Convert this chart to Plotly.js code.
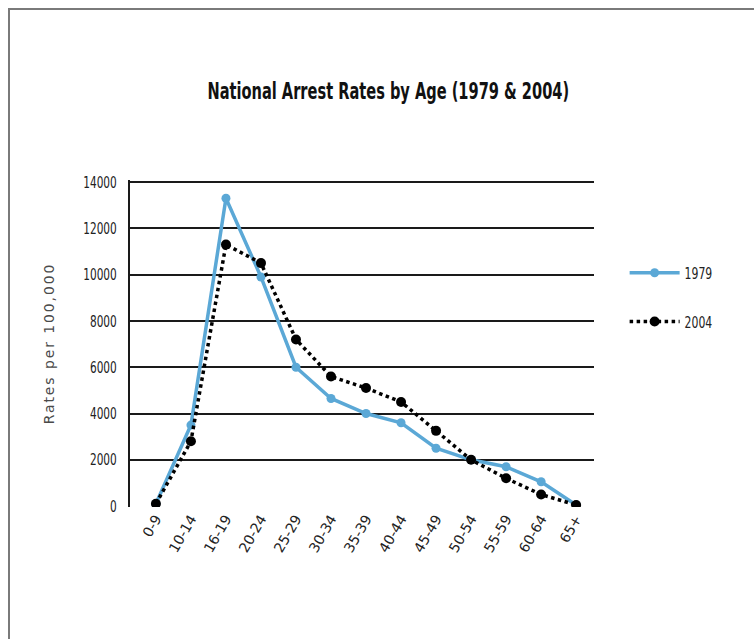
<!DOCTYPE html>
<html>
<head>
<meta charset="utf-8">
<script src="https://cdn.plot.ly/plotly-3.0.1.min.js"></script>
<style>
  html, body { margin: 0; padding: 0; background: #fff; }
  #wrap { position: relative; width: 754px; height: 639px; overflow: hidden; }
  #frame { position: absolute; left: 8px; top: 8px; width: 760px; height: 650px;
           border-left: 2px solid #7a7a7a; border-top: 2px solid #7a7a7a; pointer-events: none; }
  #chart { position: absolute; left: 0; top: 0; width: 754px; height: 639px; }
  /* condensed look for the display fonts */
  #chart .gtitle { transform-box: fill-box; transform-origin: 50% 50%; transform: scaleX(0.635); }
  #chart .yaxislayer-above { transform-box: fill-box; transform-origin: 100% 50%; transform: scaleX(0.66); }
  #chart .legendtext { transform-box: fill-box; transform-origin: 0% 50%; transform: scaleX(0.68); }
  #chart .ytitle { letter-spacing: 1.9px; }
</style>
</head>
<body>
<div id="wrap">
  <div id="chart"></div>
  <div id="frame"></div>
</div>
<script>
const ageGroups = ["0-9", "10-14", "16-19", "20-24", "25-29", "30-34", "35-39", "40-44", "45-49", "50-54", "55-59", "60-64", "65+"];
const rates1979 = [100, 3500, 13300, 9900, 6000, 4650, 4000, 3600, 2500, 2000, 1700, 1050, 50];
const rates2004 = [100, 2800, 11300, 10500, 7200, 5600, 5100, 4500, 3250, 2000, 1200, 500, 50];
const yTicks = [0, 2000, 4000, 6000, 8000, 10000, 12000, 14000];

const sans = "'DejaVu Sans', sans-serif";

const traces = [
  {
    x: ageGroups, y: rates1979, name: "1979", type: "scatter", mode: "lines+markers",
    line: { color: "#5ba8d6", width: 3.5 },
    marker: { color: "#5ba8d6", size: 9, symbol: "circle" },
    legendgroup: "a"
  },
  {
    x: ageGroups, y: rates2004, name: "2004", type: "scatter", mode: "lines+markers",
    line: { color: "#000000", width: 3.5, dash: "dot" },
    marker: { color: "#000000", size: 10, symbol: "circle" },
    legendgroup: "b"
  }
];

const layout = {
  width: 754, height: 639,
  margin: { l: 130, r: 160, t: 180, b: 132 },
  paper_bgcolor: "#ffffff", plot_bgcolor: "#ffffff",
  showlegend: true,
  title: {
    text: "<b>National Arrest Rates by Age (1979 &amp; 2004)</b>",
    font: { family: sans, size: 23, color: "#111" },
    x: 0.515, xanchor: "center", y: 0.858, yanchor: "middle"
  },
  xaxis: {
    type: "category",
    range: [-0.74, 12.51],
    tickangle: -60,
    tickfont: { family: sans, size: 14, color: "#222" },
    showgrid: false, zeroline: false, showline: false, ticks: "",
    automargin: false
  },
  yaxis: {
    range: [-40, 14091],
    tickvals: yTicks,
    ticktext: yTicks.map(String),
    tickfont: { family: sans, size: 16, color: "#222" },
    showgrid: true, gridcolor: "#1a1a1a", gridwidth: 2,
    zeroline: false,
    showline: true, linecolor: "#1a1a1a", linewidth: 2,
    ticks: "", ticklabelstandoff: 8,
    title: { text: "Rates per 100,000", font: { family: sans, size: 14, color: "#4a4a4a" }, standoff: 8 },
    automargin: false
  },
  legend: {
    x: 1.066, xanchor: "left", y: 0.768, yanchor: "top",
    font: { family: sans, size: 16, color: "#222" },
    tracegroupgap: 25, traceorder: "grouped",
    itemwidth: 50, bgcolor: "rgba(0,0,0,0)"
  }
};

Plotly.newPlot("chart", traces, layout, { displayModeBar: false, staticPlot: true });
</script>
</body>
</html>
